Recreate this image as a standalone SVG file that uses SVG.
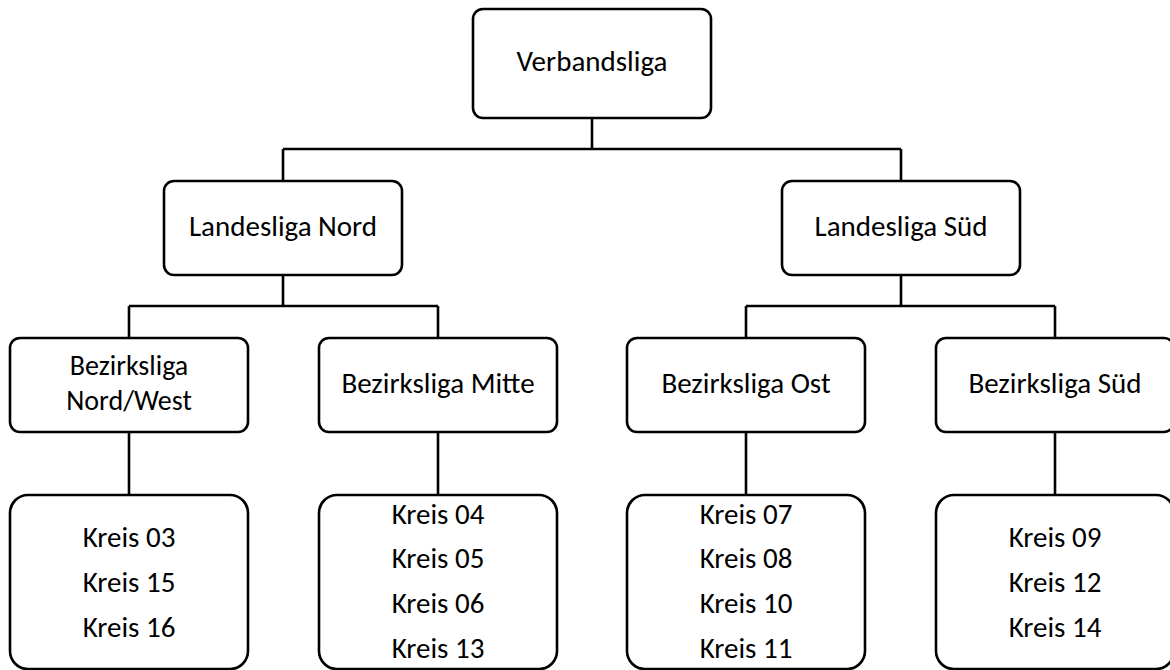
<svg xmlns="http://www.w3.org/2000/svg" width="1170" height="670" viewBox="0 0 1170 670">
<style>
.box{fill:#fff;stroke:#000;stroke-width:2.6}
.con{fill:none;stroke:#000;stroke-width:2.6}
text{font-family:Carlito,Lato,"Open Sans",sans-serif;font-size:29px;fill:#000;text-anchor:middle}
.two{font-size:28px}
</style>
<rect width="1170" height="670" fill="#fff"/>
<g id="connectors">
<path class="con" d="M592 118V149M283 149H901M283 149V181M901 149V181"/>
<path class="con" d="M283 275V306M129 306H438M129 306V338M438 306V338"/>
<path class="con" d="M901 275V306M746 306H1055M746 306V338M1055 306V338"/>
<path class="con" d="M129 432V495M438 432V495M746 432V495M1055 432V495"/>
</g>
<g id="verbandsliga"><rect class="box" x="473" y="9" width="238" height="109" rx="10"/><text x="592" y="71">Verbandsliga</text></g>
<g id="landesliga-nord"><rect class="box" x="164" y="181" width="238" height="94" rx="10"/><text x="283" y="236">Landesliga Nord</text></g>
<g id="landesliga-sued"><rect class="box" x="782" y="181" width="238" height="94" rx="10"/><text x="901" y="236">Landesliga Süd</text></g>
<g id="bezirksliga-nordwest"><rect class="box" x="10" y="338" width="238" height="94" rx="10"/><text class="two" x="129" y="375">Bezirksliga</text><text class="two" x="129" y="410">Nord/West</text></g>
<g id="bezirksliga-mitte"><rect class="box" x="319" y="338" width="238" height="94" rx="10"/><text x="438" y="393">Bezirksliga Mitte</text></g>
<g id="bezirksliga-ost"><rect class="box" x="627" y="338" width="238" height="94" rx="10"/><text x="746" y="393">Bezirksliga Ost</text></g>
<g id="bezirksliga-sued"><rect class="box" x="936" y="338" width="238" height="94" rx="10"/><text x="1055" y="393">Bezirksliga Süd</text></g>
<g id="kreise-nordwest"><rect class="box" x="10" y="495" width="238" height="174" rx="18"/><text x="129" y="547">Kreis 03</text><text x="129" y="592">Kreis 15</text><text x="129" y="637">Kreis 16</text></g>
<g id="kreise-mitte"><rect class="box" x="319" y="495" width="238" height="174" rx="18"/><text x="438" y="524">Kreis 04</text><text x="438" y="568">Kreis 05</text><text x="438" y="613">Kreis 06</text><text x="438" y="658">Kreis 13</text></g>
<g id="kreise-ost"><rect class="box" x="627" y="495" width="238" height="174" rx="18"/><text x="746" y="524">Kreis 07</text><text x="746" y="568">Kreis 08</text><text x="746" y="613">Kreis 10</text><text x="746" y="658">Kreis 11</text></g>
<g id="kreise-sued"><rect class="box" x="936" y="495" width="238" height="174" rx="18"/><text x="1055" y="547">Kreis 09</text><text x="1055" y="592">Kreis 12</text><text x="1055" y="637">Kreis 14</text></g>
</svg>
